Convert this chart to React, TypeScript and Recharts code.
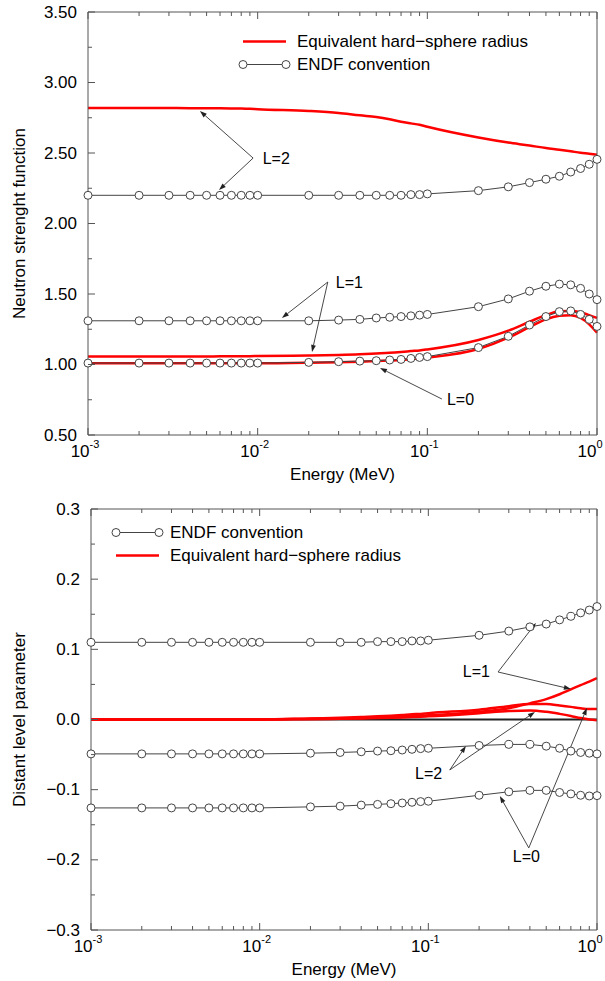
import {
  Legend,
  Line,
  LineChart,
  ReferenceDot,
  ReferenceLine,
  XAxis,
  YAxis,
} from "recharts";

const FONT = '"Liberation Sans", Arial, Helvetica, sans-serif';
const AXIS = "#555";
const RED = "#ff0000";
const ENDF = "#444";

// energy grid of the ENDF points (MeV)
const energies = [
  0.001, 0.002, 0.003, 0.004, 0.005, 0.006, 0.007, 0.008, 0.009, 0.01, 0.02, 0.03, 0.04, 0.05,
  0.06, 0.07, 0.08, 0.09, 0.1, 0.2, 0.3, 0.4, 0.5, 0.6, 0.7, 0.8, 0.9, 1.0,
];

// upper panel: neutron strength function
const sfEndfL2 = [
  2.2, 2.2, 2.2, 2.2, 2.2, 2.2, 2.2, 2.2, 2.2, 2.2, 2.2, 2.2, 2.2, 2.2, 2.2, 2.2, 2.205, 2.205,
  2.21, 2.233, 2.26, 2.29, 2.314, 2.335, 2.365, 2.39, 2.42, 2.455,
];
const sfEndfL1 = [
  1.31, 1.31, 1.31, 1.31, 1.31, 1.31, 1.31, 1.31, 1.31, 1.31, 1.31, 1.315, 1.32, 1.33, 1.335, 1.34,
  1.345, 1.35, 1.355, 1.41, 1.465, 1.52, 1.555, 1.57, 1.565, 1.54, 1.5, 1.46,
];
const sfEndfL0 = [
  1.01, 1.01, 1.01, 1.01, 1.01, 1.01, 1.01, 1.01, 1.01, 1.01, 1.015, 1.02, 1.024, 1.027, 1.032,
  1.036, 1.043, 1.05, 1.056, 1.12, 1.2, 1.28, 1.34, 1.375, 1.38, 1.355, 1.32, 1.27,
];
const sfHardL2 = [
  2.82, 2.82, 2.819, 2.818, 2.818, 2.817, 2.816, 2.815, 2.813, 2.81, 2.798, 2.784, 2.767, 2.756,
  2.74, 2.722, 2.71, 2.7, 2.686, 2.61, 2.574, 2.553, 2.535, 2.523, 2.512, 2.502, 2.495, 2.488,
];
const sfHardL1 = [
  1.057, 1.057, 1.057, 1.057, 1.057, 1.058, 1.058, 1.059, 1.059, 1.06, 1.063, 1.067, 1.072, 1.078,
  1.083, 1.089, 1.095, 1.1, 1.107, 1.174, 1.24, 1.303, 1.35, 1.377, 1.38, 1.37, 1.35, 1.33,
];
const sfHardL0 = [
  1.008, 1.008, 1.008, 1.008, 1.008, 1.008, 1.008, 1.008, 1.008, 1.008, 1.012, 1.016, 1.02, 1.024,
  1.028, 1.032, 1.038, 1.044, 1.05, 1.11, 1.19, 1.265, 1.32, 1.345, 1.35, 1.33, 1.285, 1.225,
];

// lower panel: distant level parameter
const dlEndfL1 = [
  0.11, 0.11, 0.11, 0.11, 0.11, 0.11, 0.11, 0.11, 0.11, 0.11, 0.11, 0.11, 0.11, 0.111, 0.111,
  0.111, 0.112, 0.112, 0.113, 0.12, 0.126, 0.132, 0.136, 0.142, 0.147, 0.152, 0.156, 0.161,
];
const dlEndfL2 = [
  -0.049, -0.049, -0.049, -0.049, -0.049, -0.049, -0.049, -0.049, -0.049, -0.049, -0.048, -0.047,
  -0.046, -0.045, -0.0445, -0.0435, -0.0425, -0.0415, -0.041, -0.037, -0.0355, -0.0355, -0.038,
  -0.041, -0.045, -0.047, -0.048, -0.049,
];
const dlEndfL0 = [
  -0.126, -0.126, -0.126, -0.126, -0.126, -0.126, -0.126, -0.126, -0.126, -0.126, -0.1245,
  -0.1235, -0.122, -0.121, -0.12, -0.119, -0.118, -0.117, -0.1165, -0.108, -0.103, -0.101, -0.101,
  -0.104, -0.106, -0.108, -0.109, -0.1085,
];
const dlHardL1 = [
  0, 0, 0, 0, 0, 0, 0, 0, 0, 0, 0.001, 0.0015, 0.002, 0.003, 0.0035, 0.004, 0.005, 0.0055, 0.006,
  0.011, 0.016, 0.023, 0.029, 0.036, 0.043, 0.049, 0.054, 0.059,
];
const dlHardL0 = [
  0, 0, 0, 0, 0, 0, 0, 0, 0, 0, 0.0015, 0.0025, 0.0035, 0.0045, 0.0055, 0.0065, 0.0075, 0.008,
  0.009, 0.014, 0.019, 0.022, 0.022, 0.02, 0.018, 0.016, 0.015, 0.015,
];
const dlHardL2 = [
  0, 0, 0, 0, 0, 0, 0, 0, 0, 0, 0.0005, 0.001, 0.0015, 0.002, 0.0025, 0.003, 0.0035, 0.004, 0.0045,
  0.009, 0.012, 0.013, 0.011, 0.008, 0.005, 0.002, 0, -0.001,
];

// ticks
const xTicks = [
  0.001, 0.002, 0.003, 0.004, 0.005, 0.006, 0.007, 0.008, 0.009, 0.01, 0.02, 0.03, 0.04, 0.05,
  0.06, 0.07, 0.08, 0.09, 0.1, 0.2, 0.3, 0.4, 0.5, 0.6, 0.7, 0.8, 0.9, 1,
];
const xMajor = [0.001, 0.01, 0.1, 1];
const sfTicks = [0.5, 0.75, 1, 1.25, 1.5, 1.75, 2, 2.25, 2.5, 2.75, 3, 3.25, 3.5];
const sfLabels = [0.5, 1, 1.5, 2, 2.5, 3, 3.5];
const dlTicks = [-0.3, -0.25, -0.2, -0.15, -0.1, -0.05, 0, 0.05, 0.1, 0.15, 0.2, 0.25, 0.3];
const dlLabels = [-0.3, -0.2, -0.1, 0, 0.1, 0.2, 0.3];

const names = { hard: "Equivalent hard\u2212sphere radius", endf: "ENDF convention" };

// annotation: text anchor, arrow origin, arrow tips (data coords)
type Note = { label: string; at: number[]; from: number[]; tips: number[][] };
const sfNotes: Note[] = [
  { label: "L=2", at: [0.0107, 2.46], from: [0.0094, 2.464], tips: [[0.00457, 2.798], [0.00592, 2.238]] },
  { label: "L=1", at: [0.0289, 1.585], from: [0.0259, 1.585], tips: [[0.0139, 1.33], [0.0209, 1.089]] },
  { label: "L=0", at: [0.1305, 0.75], from: [0.1219, 0.755], tips: [[0.0526, 0.975]] },
];
const dlNotes: Note[] = [
  { label: "L=1", at: [0.16, 0.0677], from: [0.259, 0.0677], tips: [[0.4345, 0.1375], [0.7, 0.0434]] },
  { label: "L=2", at: [0.0834, -0.0774], from: [0.134, -0.0719], tips: [[0.167, -0.0377], [0.4285, 0.0107]] },
  { label: "L=0", at: [0.317, -0.195], from: [0.394, -0.183], tips: [[0.2655, -0.109], [0.871, 0.0164]] },
];

function rowsOf(cols: Record<string, number[]>) {
  return energies.map((e, i) => {
    const r: Record<string, number> = { e };
    for (const k in cols) r[k] = cols[k][i];
    return r;
  });
}

const sfRows = rowsOf({ h0: sfHardL0, h1: sfHardL1, h2: sfHardL2, n0: sfEndfL0, n1: sfEndfL1, n2: sfEndfL2 });
const dlRows = rowsOf({ h0: dlHardL0, h1: dlHardL1, h2: dlHardL2, n0: dlEndfL0, n1: dlEndfL1, n2: dlEndfL2 });

const xTick = (side: "top" | "bottom") => (p: any) => {
  const v = p.payload.value;
  const major = xMajor.includes(v);
  const d = side === "top" ? 1 : -1;
  // last label kept inside the page edge
  const tx = Math.min(p.x - 3, 590);
  return (
    <g>
      <line x1={p.x} x2={p.x} y1={p.y} y2={p.y + d * (major ? 7 : 4)} stroke={AXIS} />
      {side === "bottom" && major && (
        <text x={tx} y={p.y + 16} textAnchor="middle" dominantBaseline="central" fontSize={17} fontFamily={FONT} fill="#000">
          10
          <tspan dy={-7} fontSize={11}>
            {Math.round(Math.log10(v))}
          </tspan>
        </text>
      )}
    </g>
  );
};

const yTick = (side: "left" | "right", labels: number[], fmt: (v: number) => string) => (p: any) => {
  const v = p.payload.value;
  const major = labels.includes(v);
  const d = side === "left" ? 1 : -1;
  return (
    <g>
      <line x1={p.x} x2={p.x + d * (major ? 7 : 4)} y1={p.y} y2={p.y} stroke={AXIS} />
      {side === "left" && major && (
        <text x={p.x - 11} y={p.y} textAnchor="end" dominantBaseline="central" fontSize={17} fontFamily={FONT} fill="#000">
          {fmt(v)}
        </text>
      )}
    </g>
  );
};

const Arrow = (p: any) => {
  const { x1, y1, x2, y2 } = p;
  const a = Math.atan2(y2 - y1, x2 - x1);
  const bx = x2 - 7 * Math.cos(a);
  const by = y2 - 7 * Math.sin(a);
  const w = 2.4;
  const pts = `${x2},${y2} ${bx - w * Math.sin(a)},${by + w * Math.cos(a)} ${bx + w * Math.sin(a)},${by - w * Math.cos(a)}`;
  return (
    <g>
      <line x1={x1} y1={y1} x2={bx} y2={by} stroke="#333" strokeWidth={0.9} />
      <polygon points={pts} fill="#222" />
    </g>
  );
};

function LegendBox({ items }: { items: ("hard" | "endf")[] }) {
  return (
    <div style={{ fontFamily: FONT, fontSize: 17, color: "#000", lineHeight: "23px" }}>
      {items.map((k) => (
        <div key={k} style={{ display: "flex", alignItems: "center", height: 23 }}>
          <svg width={60} height={23} style={{ display: "block" }}>
            {k === "hard" ? (
              <line x1={6} x2={49} y1={11.5} y2={11.5} stroke={RED} strokeWidth={2.5} />
            ) : (
              <g>
                <line x1={6} x2={49} y1={11.5} y2={11.5} stroke={ENDF} />
                <circle cx={6} cy={11.5} r={4} fill="#fff" stroke={ENDF} />
                <circle cx={49} cy={11.5} r={4} fill="#fff" stroke={ENDF} />
              </g>
            )}
          </svg>
          <span style={{ whiteSpace: "nowrap" }}>{names[k]}</span>
        </div>
      ))}
    </div>
  );
}

type PanelProps = {
  rows: Record<string, number>[];
  height: number;
  topH: number;
  bottomH: number;
  leftW: number;
  yDomain: number[];
  yTicks: number[];
  yLabels: number[];
  fmt: (v: number) => string;
  yTitle: string;
  notes: Note[];
  legend: ("hard" | "endf")[];
  legendPos: { left: number; top: number };
  zero?: boolean;
};

function Panel(pp: PanelProps) {
  const titleY = pp.height - pp.bottomH;
  return (
    <LineChart width={605} height={pp.height} data={pp.rows} margin={{ top: 0, right: 0, bottom: 0, left: 0 }}>
      <XAxis
        dataKey="e"
        type="number"
        scale="log"
        domain={[0.001, 1]}
        ticks={xTicks}
        interval={0}
        height={pp.bottomH}
        tickSize={0}
        tickMargin={0}
        tickLine={false}
        axisLine={{ stroke: AXIS }}
        tick={xTick("bottom")}
        label={(lp: any) => (
          <text
            x={lp.viewBox.x + lp.viewBox.width / 2}
            y={titleY + 39}
            textAnchor="middle"
            dominantBaseline="central"
            fontSize={17}
            fontFamily={FONT}
            fill="#000"
          >
            Energy (MeV)
          </text>
        )}
      />
      <XAxis
        xAxisId="top"
        orientation="top"
        dataKey="e"
        type="number"
        scale="log"
        domain={[0.001, 1]}
        ticks={xTicks}
        interval={0}
        height={pp.topH}
        tickSize={0}
        tickMargin={0}
        tickLine={false}
        axisLine={{ stroke: AXIS }}
        tick={xTick("top")}
      />
      <YAxis
        type="number"
        domain={pp.yDomain}
        ticks={pp.yTicks}
        interval={0}
        width={pp.leftW}
        tickSize={0}
        tickMargin={0}
        tickLine={false}
        axisLine={{ stroke: AXIS }}
        tick={yTick("left", pp.yLabels, pp.fmt)}
        label={(lp: any) => (
          <text
            transform={`translate(19, ${lp.viewBox.y + lp.viewBox.height / 2}) rotate(-90)`}
            textAnchor="middle"
            dominantBaseline="central"
            fontSize={17}
            fontFamily={FONT}
            fill="#000"
          >
            {pp.yTitle}
          </text>
        )}
      />
      <YAxis
        yAxisId="right"
        orientation="right"
        type="number"
        domain={pp.yDomain}
        ticks={pp.yTicks}
        interval={0}
        width={8}
        tickSize={0}
        tickMargin={0}
        tickLine={false}
        axisLine={{ stroke: AXIS }}
        tick={yTick("right", pp.yLabels, pp.fmt)}
      />
      <Legend
        layout="vertical"
        align="center"
        verticalAlign="middle"
        wrapperStyle={{ left: pp.legendPos.left, top: pp.legendPos.top, width: 360 }}
        content={() => <LegendBox items={pp.legend} />}
      />
      {pp.zero && <ReferenceLine y={0} stroke="#222" strokeWidth={2} ifOverflow="visible" />}
      {["h0", "h1", "h2"].map((k) => (
        <Line key={k} dataKey={k} type="monotone" stroke={RED} strokeWidth={2.5} dot={false} isAnimationActive={false} />
      ))}
      {["n0", "n1", "n2"].map((k) => (
        <Line
          key={k}
          dataKey={k}
          type="linear"
          stroke={ENDF}
          strokeWidth={1}
          dot={{ r: 4, fill: "#fff", stroke: ENDF, strokeWidth: 1 }}
          isAnimationActive={false}
        />
      ))}
      {pp.notes.flatMap((n) =>
        n.tips.map((t, i) => (
          <ReferenceLine
            key={`${n.label}-${i}`}
            segment={[
              { x: n.from[0], y: n.from[1] },
              { x: t[0], y: t[1] },
            ]}
            ifOverflow="visible"
            shape={Arrow}
          />
        ))
      )}
      {pp.notes.map((n) => (
        <ReferenceDot
          key={n.label}
          x={n.at[0]}
          y={n.at[1]}
          r={0}
          ifOverflow="visible"
          shape={(p: any) => (
            <text x={p.cx} y={p.cy} dominantBaseline="central" fontSize={16} fontFamily={FONT} fill="#000">
              {n.label}
            </text>
          )}
        />
      ))}
    </LineChart>
  );
}

const minus = (s: string) => s.replace("-", "\u2212");

export default function App() {
  return (
    <div style={{ position: "absolute", left: 0, top: 0, width: 605, height: 981, background: "#fff" }}>
      <Panel
        rows={sfRows}
        height={490}
        topH={12}
        bottomH={55}
        leftW={88}
        yDomain={[0.5, 3.5]}
        yTicks={sfTicks}
        yLabels={sfLabels}
        fmt={(v) => v.toFixed(2)}
        yTitle="Neutron strenght function"
        notes={sfNotes}
        legend={["hard", "endf"]}
        legendPos={{ left: 237, top: 30 }}
      />
      <Panel
        rows={dlRows}
        height={491}
        topH={19}
        bottomH={51}
        leftW={91}
        yDomain={[-0.3, 0.3]}
        yTicks={dlTicks}
        yLabels={dlLabels}
        fmt={(v) => minus(v.toFixed(1))}
        yTitle="Distant level parameter"
        notes={dlNotes}
        legend={["endf", "hard"]}
        legendPos={{ left: 110, top: 31 }}
        zero
      />
    </div>
  );
}
